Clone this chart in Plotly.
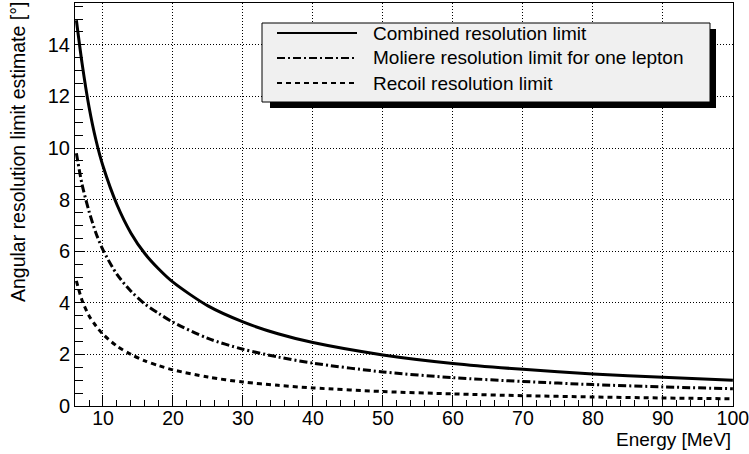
import plotly.graph_objects as go

# Data
energy = [6.2, 7, 8, 9, 10, 12, 14, 16, 18, 20, 25, 30, 35, 40, 50, 60, 70, 80, 90, 100]
combined = [14.95, 13.3, 11.6, 10.3, 9.3, 7.8, 6.7, 5.9, 5.3, 4.8, 3.88, 3.26, 2.8, 2.46,
            1.98, 1.65, 1.42, 1.24, 1.11, 1.0]
moliere = [9.8, 8.6, 7.55, 6.7, 6.05, 5.1, 4.45, 3.95, 3.58, 3.25, 2.62, 2.2, 1.9, 1.66,
           1.32, 1.1, 0.95, 0.83, 0.74, 0.67]
recoil = [4.85, 4.1, 3.5, 3.1, 2.78, 2.32, 2.0, 1.75, 1.56, 1.4, 1.12, 0.93, 0.8, 0.7,
          0.56, 0.47, 0.4, 0.35, 0.31, 0.28]

series_names = ["Combined resolution limit",
                "Moliere resolution limit for one lepton",
                "Recoil resolution limit"]
x_ticks = [10, 20, 30, 40, 50, 60, 70, 80, 90, 100]
y_ticks = [0, 2, 4, 6, 8, 10, 12, 14]

W, H = 749, 454
ML, MR, MT, MB = 75, 16, 3, 48
PW, PH = W - ML - MR, H - MT - MB


def px(xp):
    return (xp - ML) / PW


def py(yp):
    return (H - MB - yp) / PH


FONT = "Liberation Sans, Arial, Helvetica, sans-serif"
dashes = ["solid", "8px,3px,2px,3px", "5px,4px"]

fig = go.Figure()
for name, vals, d in zip(series_names, [combined, moliere, recoil], dashes):
    fig.add_trace(go.Scatter(x=energy, y=vals, mode="lines", name=name,
                             line=dict(color="black", width=3, dash=d, shape="spline",
                                       smoothing=0.8),
                             showlegend=False))

fig.update_layout(
    width=W, height=H,
    margin=dict(l=ML, r=MR, t=MT, b=MB, autoexpand=False),
    paper_bgcolor="white", plot_bgcolor="white",
    font=dict(family=FONT, color="black", size=20),
    xaxis=dict(range=[6, 100.02], tickvals=x_ticks, ticks="inside", ticklen=11,
               tickcolor="black", tickwidth=1, automargin=False,
               ticklabeloverflow="allow",
               showline=True, linecolor="black", linewidth=1, mirror=True,
               showgrid=True, gridcolor="black", gridwidth=1, griddash="1px,2px",
               zeroline=False, tickfont=dict(size=19.5), ticklabelstandoff=-5,
               minor=dict(ticks="inside", ticklen=6, tickcolor="black", dtick=2,
                          tick0=0, showgrid=False)),
    yaxis=dict(range=[0, 15.62], tickvals=y_ticks, ticks="inside", ticklen=10,
               tickcolor="black", tickwidth=1, automargin=False,
               ticklabeloverflow="allow",
               showline=True, linecolor="black", linewidth=1, mirror=True,
               showgrid=True, gridcolor="black", gridwidth=1, griddash="1px,2px",
               zeroline=False, tickfont=dict(size=20),
               minor=dict(ticks="inside", ticklen=8, tickcolor="black", dtick=0.5,
                          tick0=0, showgrid=False)),
)

# Axis titles (right/top aligned as in the reference)
fig.add_annotation(text="Energy [MeV]", xref="paper", yref="paper",
                   x=1, y=py(440), xanchor="right", yanchor="middle",
                   showarrow=False, font=dict(size=19, family=FONT))
fig.add_annotation(text="Angular resolution limit estimate [°]", xref="paper", yref="paper",
                   x=px(18), y=py(0), xanchor="center", yanchor="top", textangle=-90,
                   showarrow=False, font=dict(size=19.5, family=FONT))

# Legend box with shadow
lx0, ly0, lx1, ly1 = 262, 23, 710, 102
sh = 6
fig.add_shape(type="rect", xref="paper", yref="paper",
              x0=px(lx0 + sh + 2), y0=py(ly1 + sh), x1=px(lx1 + sh), y1=py(ly0 + sh),
              fillcolor="black", line=dict(width=0), layer="above")
fig.add_shape(type="rect", xref="paper", yref="paper",
              x0=px(lx0), y0=py(ly1), x1=px(lx1), y1=py(ly0),
              fillcolor="#f0f0f0", line=dict(color="black", width=1), layer="above")
rows_y = [33, 58, 83]
for name, d, yy in zip(series_names, dashes, rows_y):
    fig.add_shape(type="line", xref="paper", yref="paper",
                  x0=px(277), x1=px(357), y0=py(yy), y1=py(yy),
                  line=dict(color="black", width=2, dash=d), layer="above")
    fig.add_annotation(text=name, xref="paper", yref="paper",
                       x=px(371), y=py(yy), xanchor="left", yanchor="middle",
                       showarrow=False, font=dict(size=19, family=FONT))

fig.write_html("out.html", config={"displayModeBar": False},
               post_script="document.body.style.margin='0';")
